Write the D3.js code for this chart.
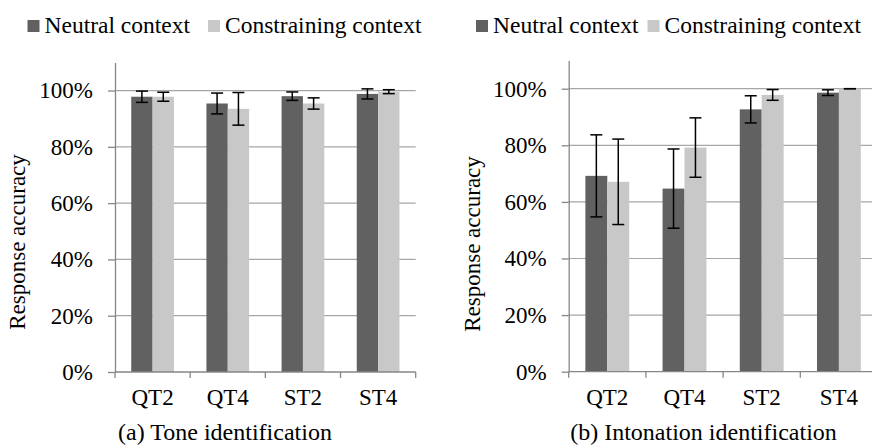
<!DOCTYPE html>
<html>
<head>
<meta charset="utf-8">
<script src="https://cdn.jsdelivr.net/npm/d3@7/dist/d3.min.js"></script>
<style>
  html, body { margin: 0; padding: 0; background: #fff; }
  svg { display: block; }
  text { font-family: "Liberation Serif", "Times New Roman", serif; fill: #000; }
</style>
</head>
<body>
<svg id="chart" width="872" height="448"></svg>
<script>
// Categories and series (percent accuracy, with error half-widths)
const categories = ["QT2", "QT4", "ST2", "ST4"];
const seriesNames = ["Neutral context", "Constraining context"];

const toneNeutral = [97.8, 95.4, 98.0, 98.8];
const toneNeutralErr = [2.0, 3.7, 1.5, 1.8];
const toneConstraining = [97.8, 93.5, 95.4, 99.6];
const toneConstrainingErr = [1.6, 5.8, 2.0, 0.7];

const intonNeutral = [69.2, 64.7, 92.7, 98.6];
const intonNeutralErr = [14.5, 14.0, 4.8, 1.0];
const intonConstraining = [67.1, 79.2, 97.8, 100];
const intonConstrainingErr = [15.1, 10.5, 1.9, 0];

const yTicks = [0, 20, 40, 60, 80, 100];
const yMax = 110;
const captions = ["(a) Tone identification", "(b) Intonation identification"];
const yTitle = "Response accuracy";

const colors = ["#616161", "#c8c8c8"];
const axisColor = "#868686";
const gridColor = "#a6a6a6";
const serif = '"Liberation Serif", "Times New Roman", serif';

const svg = d3.select("#chart");

function drawPanel(opts) {
  const { left, right, top, bottom, series, errors, caption, captionX,
          legendX, legendGap, titleX, titleY } = opts;

  const g = svg.append("g");

  const x = d3.scaleBand().domain(categories).range([left, right]).padding(0);
  const y = d3.scaleLinear().domain([0, yMax]).range([bottom, top]);
  const barW = x.bandwidth() * 0.284;
  const xs = d3.scaleBand().domain(d3.range(series.length))
    .range([0, barW * series.length]);
  const groupX = c => x(c) + (x.bandwidth() - barW * series.length) / 2;

  // Horizontal gridlines
  g.append("g").selectAll("line")
    .data(yTicks.filter(d => d > 0))
    .join("line")
    .attr("x1", left).attr("x2", right)
    .attr("y1", d => y(d)).attr("y2", d => y(d))
    .attr("stroke", gridColor).attr("stroke-width", 1.2);

  // Bars
  series.forEach((vals, si) => {
    g.append("g").selectAll("rect")
      .data(vals)
      .join("rect")
      .attr("x", (d, i) => groupX(categories[i]) + xs(si))
      .attr("width", xs.bandwidth())
      .attr("y", d => y(d))
      .attr("height", d => y(0) - y(d))
      .attr("fill", colors[si]);
  });

  // Error bars with caps
  series.forEach((vals, si) => {
    const eg = g.append("g").attr("stroke", "#000").attr("stroke-width", 1.5);
    vals.forEach((v, i) => {
      const e = errors[si][i];
      const c = groupX(categories[i]) + xs(si) + xs.bandwidth() / 2;
      eg.append("line").attr("x1", c).attr("x2", c)
        .attr("y1", y(v + e)).attr("y2", y(v - e));
      [v + e, v - e].forEach(ev => {
        eg.append("line").attr("x1", c - 6).attr("x2", c + 6)
          .attr("y1", y(ev)).attr("y2", y(ev));
      });
    });
  });

  // Y axis
  const yAxis = d3.axisLeft(y)
    .tickValues(yTicks)
    .tickFormat(d => d + "%")
    .tickSizeInner(7).tickSizeOuter(0).tickPadding(15);
  const ya = g.append("g").attr("transform", `translate(${left},0)`).call(yAxis);
  ya.attr("font-family", serif).attr("font-size", 23);
  ya.select(".domain").attr("stroke", axisColor).attr("stroke-width", 1.3);
  ya.selectAll(".tick line").attr("stroke", axisColor).attr("stroke-width", 1.3);
  ya.selectAll(".tick text").attr("fill", "#000");

  // X axis: baseline, category-boundary ticks and labels
  const xa = g.append("g");
  xa.append("line").attr("x1", left).attr("x2", right)
    .attr("y1", y(0)).attr("y2", y(0))
    .attr("stroke", axisColor).attr("stroke-width", 1.3);
  const bounds = categories.map(c => x(c)).concat([x(categories[categories.length - 1]) + x.step()]);
  xa.selectAll("line.tk").data(bounds).join("line").attr("class", "tk")
    .attr("x1", d => d).attr("x2", d => d)
    .attr("y1", y(0)).attr("y2", y(0) + 6)
    .attr("stroke", axisColor).attr("stroke-width", 1.3);
  xa.selectAll("text").data(categories).join("text")
    .attr("x", d => x(d) + x.bandwidth() / 2)
    .attr("y", y(0) + 33)
    .attr("text-anchor", "middle")
    .attr("font-size", 23)
    .text(d => d);

  // Y axis title
  g.append("text")
    .attr("transform", `translate(${titleX},${titleY}) rotate(-90)`)
    .attr("text-anchor", "middle")
    .attr("font-size", 23)
    .text(yTitle);

  // Caption
  g.append("text")
    .attr("x", captionX).attr("y", 440)
    .attr("text-anchor", "middle")
    .attr("font-size", 24)
    .text(caption);

  // Legend
  const lg = g.append("g");
  let lx = legendX;
  seriesNames.forEach((name, si) => {
    lg.append("rect").attr("x", lx).attr("y", 20).attr("width", 12).attr("height", 12)
      .attr("fill", colors[si]);
    const t = lg.append("text").attr("x", lx + 17).attr("y", 33)
      .attr("font-size", 23.5).text(name);
    lx += 17 + t.node().getComputedTextLength() + legendGap;
  });
}

drawPanel({
  left: 115, right: 415.7, top: 62.4, bottom: 372,
  series: [toneNeutral, toneConstraining],
  errors: [toneNeutralErr, toneConstrainingErr],
  caption: captions[0], captionX: 225,
  legendX: 27.5, legendGap: 18,
  titleX: 25, titleY: 242
});

drawPanel({
  left: 568.7, right: 877.5, top: 60.4, bottom: 371.7,
  series: [intonNeutral, intonConstraining],
  errors: [intonNeutralErr, intonConstrainingErr],
  caption: captions[1], captionX: 703.5,
  legendX: 476, legendGap: 9,
  titleX: 479.5, titleY: 244
});
</script>
</body>
</html>
